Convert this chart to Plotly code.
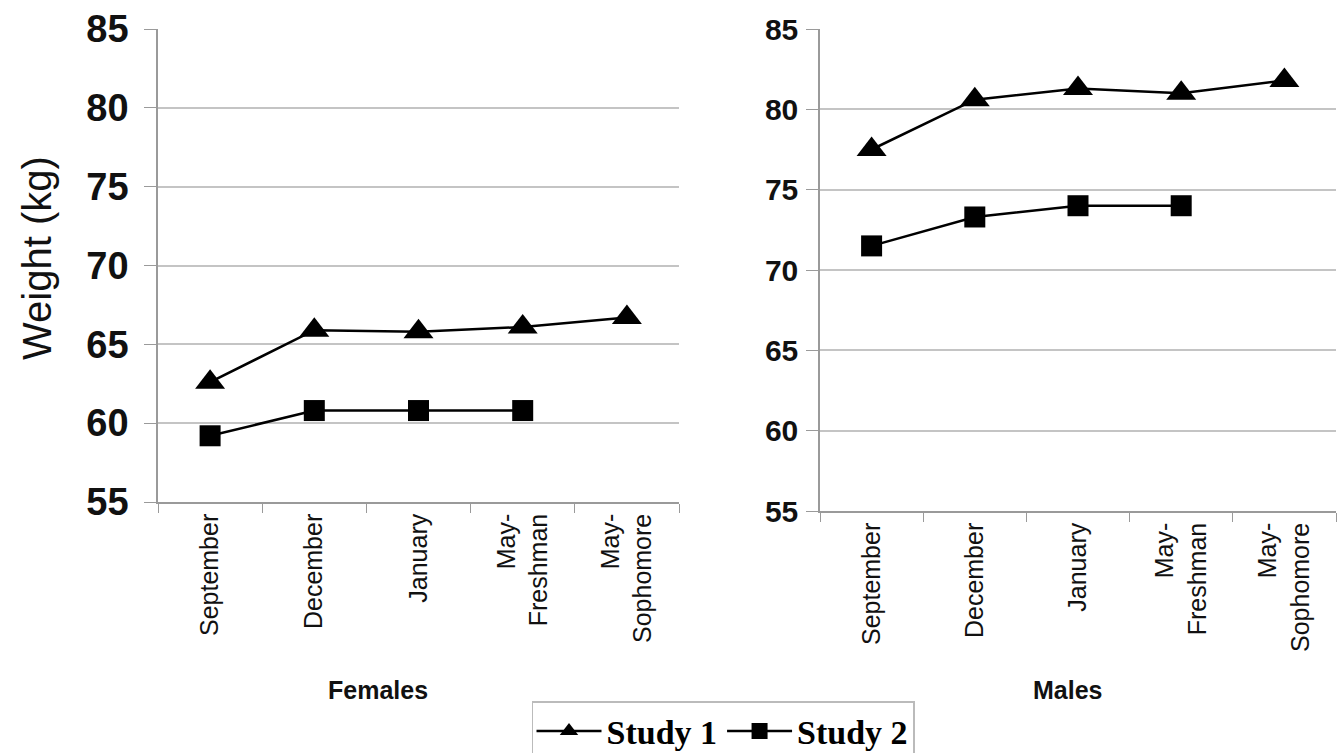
import plotly.graph_objects as go

categories = ["September", "December", "January", "May-<br>Freshman", "May-<br>Sophomore"]
females_study1 = [62.6, 65.9, 65.8, 66.1, 66.7]
females_study2 = [59.2, 60.8, 60.8, 60.8, None]
males_study1 = [77.5, 80.6, 81.3, 81.0, 81.8]
males_study2 = [71.5, 73.3, 74.0, 74.0, None]
y_ticks = [55, 60, 65, 70, 75, 80, 85]

W, H = 1339, 753
fig = go.Figure()

def add_series(x, y, name, symbol, size, xa, ya, show):
    fig.add_trace(go.Scatter(
        x=x, y=y, name=name, mode="lines+markers",
        line=dict(color="black", width=2.5),
        marker=dict(symbol=symbol, size=size, color="black"),
        xaxis=xa, yaxis=ya, showlegend=show, legendgroup=name,
        connectgaps=False,
    ))

add_series(categories, females_study1, "Study 1", "triangle-up", 26, "x", "y", True)
add_series(categories, females_study2, "Study 2", "square", 21, "x", "y", True)
add_series(categories, males_study1, "Study 1", "triangle-up", 26, "x2", "y2", False)
add_series(categories, males_study2, "Study 2", "square", 21, "x2", "y2", False)

grid = "#c4c4c4"
axcol = "#9a9a9a"
xcommon = dict(type="category", range=[-0.5, 4.5], showgrid=False, showline=True,
               linecolor=axcol, linewidth=1.5, ticks="outside", tickson="boundaries",
               ticklen=9, tickcolor=axcol, tickangle=-90, automargin=False,
               tickfont=dict(family="Liberation Sans, Arial", size=25, color="#111"))
ycommon = dict(range=[55, 85], tickvals=y_ticks, showgrid=True, gridcolor=grid, gridwidth=1.5,
               showline=True, linecolor=axcol, linewidth=1.5, ticks="outside", ticklen=12,
               tickcolor=axcol, zeroline=False, automargin=False)

fig.update_layout(
    width=W, height=H,
    margin=dict(l=0, r=0, t=0, b=0, autoexpand=False),
    paper_bgcolor="white", plot_bgcolor="white",
    xaxis=dict(domain=[158 / W, 679 / W], anchor="y", **xcommon),
    yaxis=dict(domain=[1 - 502 / H, 1 - 29 / H], anchor="x", ticklabelstandoff=8,
               tickfont=dict(family="Liberation Sans, Arial", size=38, color="#111", weight="bold"),
               **ycommon),
    xaxis2=dict(domain=[820 / W, 1336 / W], anchor="y2", **xcommon),
    yaxis2=dict(domain=[1 - 511 / H, 1 - 29 / H], anchor="x2", ticklabelstandoff=2,
                tickfont=dict(family="Liberation Sans, Arial", size=30, color="#111", weight="bold"),
                **ycommon),
    legend=dict(orientation="h", x=723 / W, xanchor="center", y=1 - 701 / H, yanchor="top",
                bgcolor="white", bordercolor="#bbbbbb", borderwidth=1.5,
                font=dict(family="Liberation Serif, Times New Roman", size=34, color="black", weight="bold"),
                itemwidth=65, tracegroupgap=0),
    annotations=[
        dict(text="<b>Females</b>", x=378 / W, y=1 - 690 / H, xref="paper", yref="paper",
             xanchor="center", yanchor="middle", showarrow=False,
             font=dict(family="Liberation Sans, Arial", size=25, color="#111")),
        dict(text="<b>Males</b>", x=1067 / W, y=1 - 690 / H, xref="paper", yref="paper",
             xanchor="center", yanchor="middle", showarrow=False,
             font=dict(family="Liberation Sans, Arial", size=25, color="#111")),
        dict(text="Weight (kg)", x=37 / W, y=1 - 258 / H, xref="paper", yref="paper",
             xanchor="center", yanchor="middle", showarrow=False, textangle=-90,
             font=dict(family="Liberation Sans, Arial", size=40, color="#111")),
    ],
)

fig.write_html("out.html", config={"displayModeBar": False},
               post_script="document.body.style.margin='0px';document.body.style.overflow='hidden';")
